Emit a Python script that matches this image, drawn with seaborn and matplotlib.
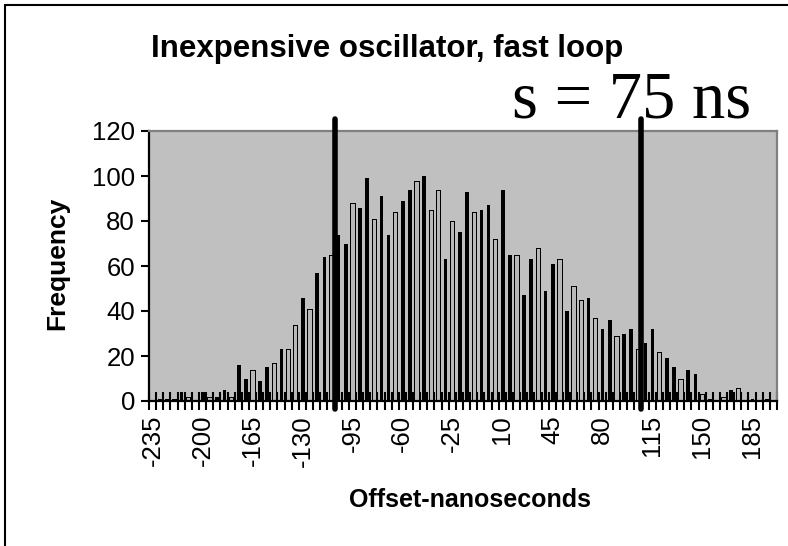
import matplotlib
matplotlib.use("Agg")
import matplotlib.pyplot as plt
import pandas as pd
import seaborn as sns
from matplotlib.patches import Rectangle

# Histogram bins (ns, bin centres, 5 ns wide)
offset_ns = [
    -235, -230, -225, -220, -215, -210, -205, -200, -195, -190,
    -185, -180, -175, -170, -165, -160, -155, -150, -145, -140,
    -135, -130, -125, -120, -115, -110, -105, -100, -95, -90,
    -85, -80, -75, -70, -65, -60, -55, -50, -45, -40,
    -35, -30, -25, -20, -15, -10, -5, 0, 5, 10,
    15, 20, 25, 30, 35, 40, 45, 50, 55, 60,
    65, 70, 75, 80, 85, 90, 95, 100, 105, 110,
    115, 120, 125, 130, 135, 140, 145, 150, 155, 160,
    165, 170, 175, 180, 185, 190, 195, 200,
]

# Count per bin
frequency = [
    0, 1, 1, 1, 4, 2, 0, 4, 2, 2,
    5, 2, 16, 10, 14, 9, 15, 17, 23, 23,
    34, 46, 41, 57, 64, 65, 74, 70, 88, 86,
    99, 81, 91, 74, 84, 89, 94, 98, 100, 85,
    94, 63, 80, 75, 93, 84, 85, 87, 72, 94,
    65, 65, 47, 63, 68, 49, 61, 63, 40, 51,
    45, 46, 37, 32, 36, 29, 30, 32, 23, 26,
    32, 22, 19, 15, 10, 14, 12, 3, 1, 0,
    2, 5, 6, 0, 1, 0, 1, 0,
]

# Labelled bins along the x axis
tick_values = [-235, -200, -165, -130, -95, -60, -25, 10, 45, 80, 115, 150, 185]
tick_labels = [str(v) for v in tick_values]

# Spread markers drawn over the histogram (ns)
spread_marks = [-107.5, 107.5]
spread_text = "s = 75 ns"

sns.set_style("ticks")
plt.rcParams["font.family"] = ["Liberation Sans", "DejaVu Sans"]
plt.rcParams["text.color"] = "black"
plt.rcParams["xtick.color"] = "black"
plt.rcParams["ytick.color"] = "black"
plt.rcParams["xtick.labelcolor"] = "black"
plt.rcParams["ytick.labelcolor"] = "black"

W, H = 788, 546
fig = plt.figure(figsize=(W / 100, H / 100), dpi=100)
fig.patch.set_facecolor("white")

# plot area in pixel terms
left, right, top, bottom = 149, 777, 131, 401
ax = fig.add_axes([left / W, (H - bottom) / H, (right - left) / W, (bottom - top) / H])
ax.set_facecolor("#c0c0c0")

df = pd.DataFrame({"offset": offset_ns, "freq": frequency})
sns.barplot(
    data=df, x="offset", y="freq", native_scale=True, errorbar=None,
    width=0.5, color="#b8b8b8", saturation=1, edgecolor="black",
    linewidth=0.72, antialiased=False, ax=ax,
)

half = 2.5
ax.set_xlim(offset_ns[0] - half, offset_ns[-1] + half)
ax.set_ylim(0, 120)

# cross tick marks at every bin boundary, labels at selected bin centres
boundaries = [v - half for v in offset_ns] + [offset_ns[-1] + half]
ax.set_xticks(boundaries)
ax.set_xticklabels([])
ax.tick_params(axis="x", which="major", direction="inout", length=12.5,
               width=1.5, color="black")
ax.set_xticks(tick_values, tick_labels, minor=True)
ax.tick_params(axis="x", which="minor", length=0, pad=10, labelsize=18.5,
               labelrotation=90)
for t in ax.get_xticklabels(minor=True):
    t.set_va("top")
    t.set_ha("center")

ax.set_yticks([0, 20, 40, 60, 80, 100, 120])
ax.tick_params(axis="y", direction="out", length=6, width=1.5, pad=4,
               labelsize=18.5, color="black")
ax.set_xlabel("")
ax.set_ylabel("")

for side in ("left", "bottom"):
    ax.spines[side].set_color("black")
    ax.spines[side].set_linewidth(1.6)
for side in ("top", "right"):
    ax.spines[side].set_visible(True)
    ax.spines[side].set_color("#808080")
    ax.spines[side].set_linewidth(1.6)

# Coarse printer-style rasterising of the thin columns: a column whose edges
# round to three raster cells prints as a solid black stroke, one that spans
# four cells keeps its grey interior and prints a little wider.
fig.canvas.draw()
px_a = ax.transData.transform([(0, 0)])[0, 0]
px_b = ax.transData.transform([(5, 0)])[0, 0]
ns_per_px = 5 / (px_b - px_a)
raster = 1.03
for bar in ax.patches:
    cx = bar.get_x() + bar.get_width() / 2
    cpx = ax.transData.transform([(cx, 0)])[0, 0]
    cells = round((cpx + 1.65) * raster) - round((cpx - 1.65) * raster)
    if cells < 4:
        w = 2.6 * ns_per_px
        bar.set_facecolor("black")
    else:
        w = 4.4 * ns_per_px
    bar.set_x(cx - w / 2)
    bar.set_width(w)

for xm in spread_marks:
    ax.plot([xm, xm], [-3.5, 125.5], color="black", lw=4.0,
            solid_capstyle="round", clip_on=False, zorder=5)

fig.text(387 / W, 1 - 57 / H, "Inexpensive oscillator, fast loop",
         ha="center", va="baseline", fontsize=22.5, fontweight="bold")
fig.text(512 / W, 1 - 117 / H, spread_text, ha="left", va="baseline",
         fontsize=48, family=["Liberation Serif", "DejaVu Serif"])
fig.text(57 / W, 1 - 263 / H, "Frequency", rotation=90, ha="center",
         va="center", fontsize=19, fontweight="bold")
fig.text(470 / W, 1 - 500 / H, "Offset-nanoseconds", ha="center",
         va="center", fontsize=18, fontweight="bold")

# outer chart frame (top and left edges visible)
fig.add_artist(Rectangle((5 / W, -0.1), 1.2, 1.1 - 5 / H,
                         transform=fig.transFigure, fill=False,
                         lw=1.5, ec="black"))

fig.savefig("out.png", dpi=100)
